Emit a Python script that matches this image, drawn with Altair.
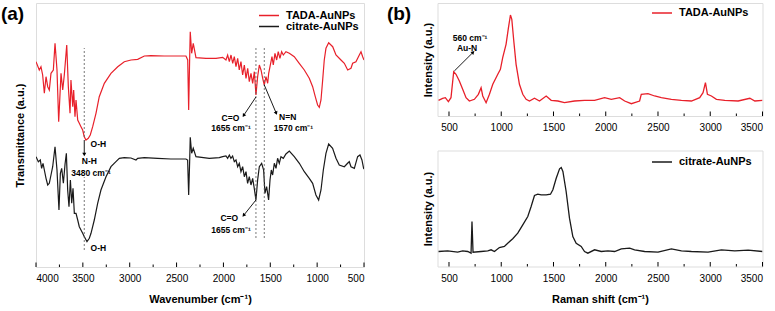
import math
import altair as alt
import pandas as pd

FONT = "Liberation Sans"
SERIES = ["TADA-AuNPs", "citrate-AuNPs"]
COLORS = ["#e8202a", "#1a1a1a"]

# ---------------- (a) FTIR, transmittance in arbitrary units (offset curves) ----------------
FTIR_RED_WN = [4000, 3965, 3947, 3929, 3911, 3893, 3875, 3858, 3840, 3815, 3797, 3776, 3758, 3733,
               3715, 3698, 3672, 3655, 3637, 3627, 3608, 3598, 3584, 3573, 3555, 3538, 3520, 3502,
               3485, 3467, 3442, 3421, 3395, 3360, 3325, 3271, 3200, 3128, 3058, 2986, 2915, 2844,
               2773, 2631, 2488, 2400, 2381, 2371, 2360, 2354, 2339, 2322, 2293, 2186, 2079, 2008,
               1973, 1955, 1937, 1919, 1901, 1884, 1866, 1848, 1831, 1813, 1795, 1777, 1759, 1741,
               1724, 1706, 1688, 1670, 1653, 1635, 1617, 1599, 1581, 1564, 1546, 1528, 1517, 1503,
               1482, 1468, 1450, 1432, 1415, 1397, 1379, 1361, 1333, 1297, 1244, 1191, 1137, 1084,
               1048, 1020, 995, 977, 959, 941, 924, 906, 877, 834, 799, 746, 710, 674, 639, 621,
               586, 550, 532, 514, 500]
FTIR_RED_T = [205.3, 197, 200.3, 192, 173.7, 190.3, 180.3, 177, 193.7, 197, 223.7, 197, 145.3, 193.7,
              177, 192, 222, 180.3, 153.7, 187, 160.3, 177, 150.3, 167, 147, 143.7, 140.3, 137,
              130.3, 127, 128.7, 132, 140.3, 153.7, 170.3, 183.7, 193.7, 200.3, 205.3, 207, 207.7, 211,
              211.3, 211, 211, 211, 207, 157, 210.3, 235.3, 213.7, 223.7, 209.3, 208.7, 208.7, 209.7,
              207, 212, 205.3, 212, 203.7, 210.3, 200.3, 208.7, 197, 205.3, 192, 202, 188.7, 198.7,
              185.3, 193.7, 183.7, 195.3, 172, 190.3, 202, 197, 188.7, 182, 190.3, 183.7, 193.7, 200.3,
              210.3, 202, 213.7, 207, 215.3, 208.7, 215.3, 212, 215.3, 213.7, 210.3, 203.7, 197, 188.7,
              180.3, 170.3, 162, 159.7, 167, 187, 207, 218.7, 224.3, 220.3, 212, 207, 203.7, 197, 198.7, 203.7,
              205.3, 212, 215.3, 210.3, 207]

FTIR_BLK_WN = [4000, 3975, 3954, 3940, 3925, 3911, 3893, 3875, 3858, 3840, 3822, 3797, 3776, 3755,
               3740, 3726, 3708, 3690, 3676, 3662, 3648, 3633, 3619, 3605, 3591, 3573, 3555, 3538,
               3520, 3502, 3484, 3456, 3431, 3413, 3378, 3342, 3307, 3253, 3200, 3147, 3111, 3058,
               2987, 2933, 2915, 2844, 2702, 2560, 2400, 2382, 2371, 2360, 2354, 2339, 2322, 2293,
               2151, 2044, 2008, 1973, 1955, 1937, 1920, 1902, 1884, 1866, 1848, 1831, 1813, 1795,
               1777, 1759, 1742, 1724, 1706, 1688, 1671, 1653, 1635, 1617, 1592, 1571, 1557, 1539,
               1518, 1503, 1489, 1475, 1457, 1439, 1422, 1404, 1386, 1361, 1333, 1297, 1244, 1190,
               1137, 1084, 1048, 1013, 984, 959, 934, 906, 877, 835, 799, 764, 710, 675, 657, 639,
               603, 568, 543, 522, 504, 500]
FTIR_BLK_T = [110.3, 105.3, 107, 98.7, 103.7, 97, 88.7, 82, 83.7, 92, 100.3, 120.3, 97, 57,
              93.7, 98.7, 83.7, 103, 113.7, 77, 60.3, 87, 63.7, 78.7, 53.7, 53.7, 47, 40.3,
              37, 33.7, 30.3, 25.3, 28.7, 33.7, 47, 63.7, 77, 90.3, 100.3, 105.3, 108.7, 109.3,
              109, 107, 108.7, 109.3, 108.7, 108, 108, 107, 72, 107, 129.7, 113.7, 118.7, 110.3,
              108.7, 109.3, 110.3, 111, 108.7, 112, 108.7, 111, 105.3, 107, 100.3, 103.7, 95.3, 100.3,
              90.3, 95.3, 83.7, 90.3, 82, 88.7, 78.7, 67, 87, 100.3, 103.7, 97, 73.7, 80.3,
              67, 87, 97, 92, 103.7, 98.7, 108.7, 103.7, 110.3, 108.7, 113, 116, 110.3, 103.7,
              95.3, 88.7, 83.7, 72, 67, 77, 97, 113.7, 123, 118.7, 108.7, 102, 100.3, 103.7, 105.3, 100.3,
              98.7, 110.3, 112, 107, 98.7, 99]

# ---------------- (b) Raman, intensity in arbitrary units ----------------
RAMAN_RED_X = [400, 439, 465, 494, 519, 545, 567, 599, 631, 663, 695, 743, 781, 807, 823, 855, 887,
               919, 967, 992, 1014, 1046, 1069, 1088, 1101, 1120, 1142, 1174, 1206, 1238, 1270, 1318,
               1366, 1430, 1478, 1542, 1605, 1701, 1797, 1893, 1989, 2053, 2133, 2181, 2245, 2324,
               2340, 2404, 2468, 2532, 2628, 2724, 2820, 2899, 2931, 2954, 2973, 3011, 3059, 3139,
               3267, 3379, 3427, 3500]
RAMAN_RED_I = [15.7, 17.7, 18.3, 14.3, 18.3, 44.3, 41.7, 35, 26.7, 18.3, 15, 16.7, 21.7, 28.3, 20, 13.3,
               21.7, 31.7, 41.7, 46.7, 58.3, 71.7, 88.3, 101, 96.7, 75, 51.7, 31.7, 21.7, 16.7, 15, 17.7,
               15, 20, 15.7, 15, 13.3, 15, 15.7, 15.7, 18.3, 16.7, 18.3, 15, 12.3, 15,
               21.7, 22.3, 20, 18.3, 16.7, 15.7, 15, 18.3, 23.3, 33.3, 21.7, 20, 16.7, 15.7,
               15, 17.7, 15, 15.7]

RAMAN_BLK_X = [400, 487, 583, 631, 679, 711, 720, 730, 807, 871, 903, 935, 982, 1030, 1062, 1110,
               1158, 1206, 1254, 1286, 1318, 1350, 1382, 1430, 1471, 1494, 1526, 1558, 1574, 1590,
               1621, 1653, 1685, 1717, 1765, 1797, 1829, 1893, 1957, 2021, 2085, 2149, 2229, 2276,
               2372, 2500, 2628, 2724, 2820, 2979, 3107, 3235, 3363, 3500]
RAMAN_BLK_I = [15, 15.7, 14.3, 15.7, 15, 13.3, 45, 14.3, 15, 15.7, 16.7, 15, 19, 20, 23.3, 27.7,
               33.3, 41.7, 50, 60, 71, 72.3, 71.7, 71.7, 72.3, 76.7, 88.3, 97.7, 99, 95,
               75, 48.3, 30, 23.3, 20, 15, 13.3, 16.7, 15, 15.7, 15, 17.7, 18.3, 16.7,
               15, 14.3, 17.7, 15.7, 15, 14.3, 16.7, 15.7, 16.3, 15]

# ---------------- axis tick positions ----------------
A_MAJOR = [500, 1000, 1500, 2000, 2500, 3000, 3500, 4000]
A_MINOR = [750, 1250, 1750, 2250, 2750, 3250, 3750]
B_MAJOR = [500, 1000, 1500, 2000, 2500, 3000, 3500]
B_MINOR = [750, 1250, 1750, 2250, 2750, 3250]

# ---------------- annotations ----------------
A_LABELS = ["O-H", "N-H", "3480 cm⁻¹", "O-H", "C=O", "1655 cm⁻¹", "N=N", "1570 cm⁻¹", "C=O", "1655 cm⁻¹"]
A_LABEL_WN = [3335, 3430, 3413, 3335, 1925, 1919, 1314, 1253, 1937, 1919]
A_LABEL_T = [123, 106, 94, 19.3, 149, 138.7, 149.7, 138.7, 48.7, 37]

A_DASH_WN = [3485, 3485, 1653, 1564]
A_DASH_LO = [130, 17, 29, 29]
A_DASH_HI = [219, 90, 220, 220]

A_ARROW_X1 = [3485, 1653, 1564, 1653]
A_ARROW_Y1 = [127, 170, 182, 67]
A_ARROW_X2 = [3485, 1781, 1439, 1781]
A_ARROW_Y2 = [113, 152, 154.3, 52]

B_LABELS = ["560 cm⁻¹", "Au-N"]
B_LABEL_X = [701, 673]
B_LABEL_I = [78.3, 68.3]
B_ARROW_X1 = [551]
B_ARROW_Y1 = [45]
B_ARROW_X2 = [727]
B_ARROW_Y2 = [63.3]

# ---------------- layout ----------------
A_W, A_H = 328, 264
B_W, B1_H, B2_H = 325, 113, 116
A_DOM = [500, 4000]
B_DOM = [390, 3500]
A_YDOM = [0, 264]
B1_YDOM = [0, 113]
B2_YDOM = [0, 116]


def arrow_df(x1, y1, x2, y2, sx, sy, reverse):
    rows = []
    for a, b, c, d in zip(x1, y1, x2, y2):
        dxs = (c - a) * sx * (-1 if reverse else 1)
        dys = -(d - b) * sy
        ang = math.degrees(math.atan2(dxs, -dys)) % 360
        rows.append({"x1": a, "y1": b, "x2": c, "y2": d, "ang": ang})
    return pd.DataFrame(rows)


def xaxis(values, title):
    return alt.Axis(
        values=values,
        format="d",
        ticks=False,
        labelPadding=6.5,
        titlePadding=10,
        domain=False,
        grid=False,
        title=title if title else "",
    )


def yaxis(title, pad):
    return alt.Axis(labels=False, ticks=False, domain=False, grid=False, title=title, titlePadding=pad)


def legend(x, y, row_pad=-0.5):
    # wide horizontal stroke symbol (20 px) with a compact row height
    return alt.Legend(orient="none", legendX=x, legendY=y, title=None, symbolType="M-2,0H2",
                      symbolSize=100, symbolStrokeWidth=1.5, symbolFillColor="transparent",
                      labelFont=FONT, labelFontWeight="bold",
                      labelFontSize=11, labelColor="black", labelOffset=11, rowPadding=row_pad, padding=0)


def panel_label(text, x, y):
    return alt.Chart(pd.DataFrame({"t": [text]})).mark_text(
        font=FONT, fontWeight="bold", fontSize=19, align="center", baseline="middle", color="black"
    ).encode(text="t:N", x=alt.value(x), y=alt.value(y))


def tick_rules(major, minor, xscale, h):
    # each tick drawn as a short vertical rule standing on the bottom frame, pointing inward
    df = pd.concat([pd.DataFrame({"v": major, "len": 4.5}), pd.DataFrame({"v": minor, "len": 2.5})])
    return alt.Chart(df).transform_calculate(
        y0=f"{h}", y1=f"{h} - datum.len"
    ).mark_rule(color="black", strokeWidth=1).encode(
        x=alt.X("v:Q", scale=xscale),
        y=alt.Y("y0:Q", scale=None, axis=None),
        y2="y1:Q",
    )


# ---------- chart (a) ----------
df_a = pd.concat([
    pd.DataFrame({"wn": FTIR_RED_WN, "t": FTIR_RED_T, "sample": SERIES[0]}),
    pd.DataFrame({"wn": FTIR_BLK_WN, "t": FTIR_BLK_T, "sample": SERIES[1]}),
])
xa = alt.Scale(domain=A_DOM, reverse=True, nice=False, zero=False)
ya = alt.Scale(domain=A_YDOM, nice=False, zero=False)

lines_a = alt.Chart(df_a).mark_line(strokeWidth=1.2, clip=True).encode(
    x=alt.X("wn:Q", scale=xa, axis=xaxis(A_MAJOR, "Wavenumber (cm⁻¹)")),
    y=alt.Y("t:Q", scale=ya, axis=yaxis("Transmittance (a.u.)", 11)),
    color=alt.Color("sample:N", scale=alt.Scale(domain=SERIES, range=COLORS), legend=legend(227, 6.5)),
    detail="sample:N",
)

dash_a = alt.Chart(pd.DataFrame({"wn": A_DASH_WN, "lo": A_DASH_LO, "hi": A_DASH_HI})).mark_rule(
    strokeDash=[2, 2], strokeWidth=0.8, color="#555555"
).encode(x=alt.X("wn:Q", scale=xa), y=alt.Y("lo:Q", scale=ya), y2="hi:Q")

arr_a = arrow_df(A_ARROW_X1, A_ARROW_Y1, A_ARROW_X2, A_ARROW_Y2, A_W / (A_DOM[1] - A_DOM[0]), 1.0, True)
arrow_line_a = alt.Chart(arr_a).mark_rule(strokeWidth=0.9, color="black").encode(
    x=alt.X("x1:Q", scale=xa), x2="x2:Q", y=alt.Y("y1:Q", scale=ya), y2="y2:Q")
arrow_head_a = alt.Chart(arr_a).mark_point(shape="triangle", filled=True, size=16, color="black", opacity=1).encode(
    x=alt.X("x2:Q", scale=xa), y=alt.Y("y2:Q", scale=ya), angle=alt.Angle("ang:Q", scale=None))

text_a = alt.Chart(pd.DataFrame({"wn": A_LABEL_WN, "t": A_LABEL_T, "lab": A_LABELS})).mark_text(
    font=FONT, fontWeight="bold", fontSize=8.5, color="black", align="center", baseline="middle"
).encode(x=alt.X("wn:Q", scale=xa), y=alt.Y("t:Q", scale=ya), text="lab:N")

ticks_a = tick_rules(A_MAJOR, A_MINOR, xa, A_H)

chart_a = alt.layer(lines_a, dash_a, arrow_line_a, arrow_head_a, text_a, ticks_a,
                    panel_label("(a)", -23.5, 10.5)).properties(width=A_W, height=A_H)

# ---------- chart (b) ----------
xb = alt.Scale(domain=B_DOM, nice=False, zero=False)
yb1 = alt.Scale(domain=B1_YDOM, nice=False, zero=False)
yb2 = alt.Scale(domain=B2_YDOM, nice=False, zero=False)

df_b1 = pd.DataFrame({"x": RAMAN_RED_X, "i": RAMAN_RED_I, "sample": SERIES[0]})
lines_b1 = alt.Chart(df_b1).mark_line(strokeWidth=1.3, clip=True).encode(
    x=alt.X("x:Q", scale=xb, axis=xaxis(B_MAJOR, None)),
    y=alt.Y("i:Q", scale=yb1, axis=yaxis("Intensity (a.u.)", 4)),
    color=alt.Color("sample:N", scale=alt.Scale(domain=[SERIES[0]], range=[COLORS[0]]), legend=legend(218.5, 4)),
)
arr_b = arrow_df(B_ARROW_X1, B_ARROW_Y1, B_ARROW_X2, B_ARROW_Y2, B_W / (B_DOM[1] - B_DOM[0]), 1.0, False)
arrow_line_b = alt.Chart(arr_b).mark_rule(strokeWidth=0.9, color="black").encode(
    x=alt.X("x1:Q", scale=xb), x2="x2:Q", y=alt.Y("y1:Q", scale=yb1), y2="y2:Q")
arrow_head_b = alt.Chart(arr_b).mark_point(shape="triangle", filled=True, size=16, color="black", opacity=1).encode(
    x=alt.X("x2:Q", scale=xb), y=alt.Y("y2:Q", scale=yb1), angle=alt.Angle("ang:Q", scale=None))
text_b = alt.Chart(pd.DataFrame({"x": B_LABEL_X, "i": B_LABEL_I, "lab": B_LABELS})).mark_text(
    font=FONT, fontWeight="bold", fontSize=8.5, color="black", align="center", baseline="middle"
).encode(x=alt.X("x:Q", scale=xb), y=alt.Y("i:Q", scale=yb1), text="lab:N")

chart_b1 = alt.layer(lines_b1, arrow_line_b, arrow_head_b, text_b, tick_rules(B_MAJOR, B_MINOR, xb, B1_H),
                     panel_label("(b)", -38.5, 10.5)).properties(width=B_W, height=B1_H)

df_b2 = pd.DataFrame({"x": RAMAN_BLK_X, "i": RAMAN_BLK_I, "sample": SERIES[1]})
lines_b2 = alt.Chart(df_b2).mark_line(strokeWidth=1.3, clip=True).encode(
    x=alt.X("x:Q", scale=xb, axis=xaxis(B_MAJOR, "Raman shift (cm⁻¹)")),
    y=alt.Y("i:Q", scale=yb2, axis=yaxis("Intensity (a.u.)", 4)),
    color=alt.Color("sample:N", scale=alt.Scale(domain=[SERIES[1]], range=[COLORS[1]]), legend=legend(218.5, 5.5)),
)
chart_b2 = alt.layer(lines_b2, tick_rules(B_MAJOR, B_MINOR, xb, B2_H)).properties(width=B_W, height=B2_H)

right = alt.vconcat(chart_b1, chart_b2, spacing=34.5, bounds="flush").resolve_scale(
    x="independent", y="independent", color="independent").resolve_legend(color="independent")

chart = alt.hconcat(chart_a, right, spacing=73.5, bounds="flush").resolve_scale(
    x="independent", y="independent", color="independent").resolve_legend(color="independent").properties(
    padding={"left": 0, "top": 2, "right": 2, "bottom": 2}
).configure_view(stroke="black", strokeWidth=1.5).configure_axis(
    labelFont=FONT, titleFont=FONT, labelFontWeight="bold", titleFontWeight="bold",
    labelFontSize=12, titleFontSize=14, labelColor="black", titleColor="black"
).configure(background="white")

chart.save("out.html", embed_options={"renderer": "svg", "actions": False})
